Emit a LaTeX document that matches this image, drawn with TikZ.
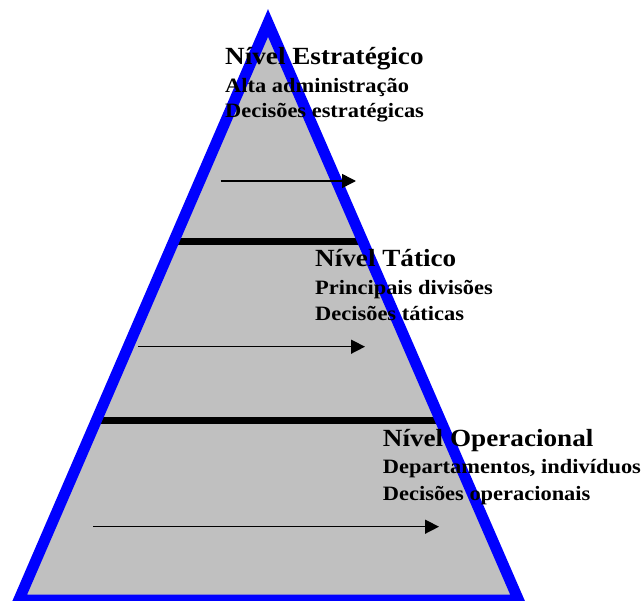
\documentclass[tikz,border=0pt]{standalone}
\usepackage{fontspec}
\setmainfont{Liberation Serif}[FakeStretch=1.1]
\usetikzlibrary{arrows.meta}
\definecolor{pyrgrey}{HTML}{C0C0C0}
\definecolor{pyrblue}{HTML}{0000FF}
\begin{document}
\begin{tikzpicture}[x=1pt,y=-1pt,
  border/.style={draw=pyrblue, line width=11pt, line join=miter},
  divider/.style={draw=black, line width=7pt},
  flow/.style={draw=black, line width=1.5pt, -{Triangle[length=14pt,width=14pt]}},
  heading/.style={anchor=base west, inner sep=0pt, font=\bfseries\fontsize{24.7}{28}\selectfont},
  detail/.style={anchor=base west, inner sep=0pt, font=\bfseries\fontsize{20.4}{26}\selectfont}]
\useasboundingbox (0,0) rectangle (644,601);

% pyramid corners
\coordinate (apex) at (268,23);
\coordinate (bl) at (18.8,600);
\coordinate (br) at (518.5,600);

% grey body
\fill[pyrgrey] (apex) -- (bl) -- (br) -- cycle;

% level dividers, cut to the pyramid
\coordinate (d1w) at (150,241.7);
\coordinate (d1e) at (400,241.7);
\coordinate (d2w) at (60,420.3);
\coordinate (d2e) at (480,420.3);
\begin{scope}
  \clip (apex) -- (bl) -- (br) -- cycle;
  \draw[divider] (d1w) -- (d1e);
  \draw[divider] (d2w) -- (d2e);
\end{scope}

% blue outline
\draw[border] (apex) -- (bl) -- (br) -- cycle;

% flow arrows
\coordinate (f1s) at (220.5,181);
\coordinate (f1e) at (356,181);
\coordinate (f2s) at (138.3,346.7);
\coordinate (f2e) at (365,346.7);
\coordinate (f3s) at (93.3,526.7);
\coordinate (f3e) at (439,526.7);
\draw[flow] (f1s) -- (f1e);
\draw[flow] (f2s) -- (f2e);
\draw[flow] (f3s) -- (f3e);

% level labels
\node[heading] (e0) at (225,65) {Nível Estratégico};
\node[detail] (e1) at (225,92.7) {Alta administração};
\node[detail] (e2) at (225,118) {Decisões estratégicas};

\node[heading] (t0) at (315,266.7) {Nível Tático};
\node[detail] (t1) at (315,294) {Principais divisões};
\node[detail] (t2) at (315,320) {Decisões táticas};

\node[heading] (o0) at (382.7,446.7) {Nível Operacional};
\node[detail] (o1) at (382.7,473) {Departamentos, indivíduos};
\node[detail] (o2) at (382.7,500) {Decisões operacionais};
\end{tikzpicture}
\end{document}
